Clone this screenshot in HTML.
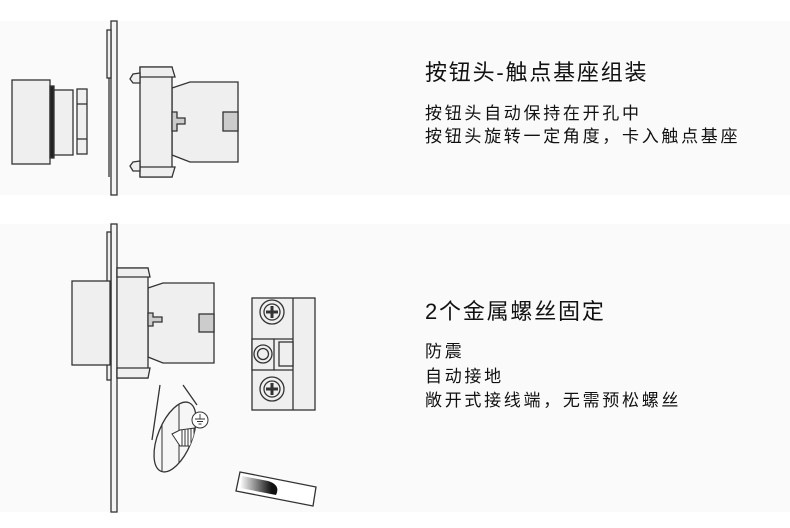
<!DOCTYPE html>
<html><head><meta charset="utf-8"><style>
html,body{margin:0;padding:0;background:#fff;}
body{width:790px;height:528px;position:relative;overflow:hidden;font-family:"Liberation Sans","Noto Sans CJK SC",sans-serif;color:#111;}
.t{position:absolute;left:425px;white-space:nowrap;}
.h{font-size:22px;line-height:26px;letter-spacing:1.8px;}
.b{font-size:17px;letter-spacing:2.7px;}
</style></head><body>
<svg width="790" height="528" style="position:absolute;left:0;top:0">
<defs>
<linearGradient id="sd" x1="0" x2="1" y1="0" y2="0"><stop offset="0" stop-color="#fff"/><stop offset="0.85" stop-color="#111"/><stop offset="1" stop-color="#111"/></linearGradient>
<clipPath id="el"><ellipse cx="175" cy="437" rx="17" ry="37" transform="rotate(22 175 437)"/></clipPath>
</defs>
<rect x="0" y="21" width="790" height="174" fill="#fafafa"/>
<rect x="0" y="224" width="790" height="288" fill="#fafafa"/>
<g stroke="#333" stroke-width="1.3" fill="#efefef">
<rect x="111" y="21" width="6" height="174" fill="#f4f4f4"/>
<rect x="107" y="30" width="4" height="48"/>
<line x1="109" y1="78" x2="109" y2="177"/>
<rect x="12" y="80" width="38" height="84"/>
<rect x="50" y="86" width="4" height="72" fill="#222"/>
<rect x="54" y="90" width="19" height="65"/>
<rect x="77" y="89" width="10" height="65"/>
<line x1="77" y1="104" x2="87" y2="104"/><line x1="77" y1="139" x2="87" y2="139"/>
<polygon points="172,88 190,82 238,82 238,162 190,162 172,155"/>
<rect x="140" y="67" width="32" height="110"/>
<polygon points="140,67 172,67 175,77 140,77"/>
<polygon points="140,167 175,167 172,177 140,177"/>
<polygon points="140,73 133,74 130,79 133,83 140,83"/>
<polygon points="140,161 133,162 130,166 133,171 140,171"/>
<polygon points="172,112 177,112 177,118 185,118 185,124 177,124 177,131 172,131" fill="#ccc"/>
<rect x="223" y="112" width="15" height="19" fill="#ccc"/>
<rect x="111" y="224" width="6" height="288" fill="#f4f4f4"/>
<rect x="107" y="232" width="4" height="148"/>
<rect x="72" y="281" width="38" height="84"/>
<polygon points="148,288 163,283 214,283 214,363 163,363 148,357"/>
<rect x="117" y="268" width="31" height="110"/>
<polygon points="117,268 148,268 150,277 117,277"/>
<polygon points="117,368 150,368 148,378 117,378"/>
<polygon points="148,313 153,313 153,317 162,317 162,322 153,322 153,326 148,326" fill="#ccc"/>
<rect x="199" y="314" width="15" height="18" fill="#ccc"/>
<rect x="252" y="298" width="63" height="112"/>
<line x1="293" y1="298" x2="293" y2="410"/>
<rect x="252" y="339" width="22" height="31"/>
<line x1="274" y1="339" x2="293" y2="339"/><line x1="274" y1="370" x2="293" y2="370"/>
<rect x="279" y="342" width="14" height="24"/>
<circle cx="272" cy="312" r="12"/><circle cx="272" cy="312" r="8"/>
<path d="M266 312h12M272 306v12" stroke-width="3" stroke="#333"/>
<circle cx="272" cy="389" r="12"/><circle cx="272" cy="389" r="8"/>
<path d="M266 389h12M272 383v12" stroke-width="3" stroke="#333"/>
<circle cx="263" cy="354" r="9"/><circle cx="263" cy="354" r="5.5"/>
<line x1="160" y1="385" x2="152" y2="440" fill="none"/>
<line x1="183" y1="385" x2="197" y2="405" fill="none"/>
<ellipse cx="175" cy="437" rx="17" ry="37" transform="rotate(22 175 437)" fill="#f6f6f6"/>
<g clip-path="url(#el)" stroke-width="1">
<line x1="162" y1="390" x2="162" y2="480"/>
<line x1="179" y1="390" x2="179" y2="480"/>
<polygon points="172,434 180,430 195,428 195,446 180,446" fill="#fff"/>
<path d="M182 430v16M185 430v16M188 429v17M191 429v17M194 428v18" stroke="#333"/>
</g>
<circle cx="200" cy="420" r="8" fill="#fff" stroke-width="1"/>
<path d="M200 414v5M195 419h10M197 421.5h6M198.5 424h3" stroke-width="0.9" fill="none"/>
<polygon points="240,472 316,487 313,506 236,491" fill="#fff"/>
<path d="M242 476 L268 481 Q281 485 276 495 L240 488 Z" fill="url(#sd)" stroke="none"/>
</g>
</svg>
<div class="t h" style="top:60px">按钮头-触点基座组装</div>
<div class="t b" style="top:102px;line-height:23px">按钮头自动保持在开孔中<br>按钮头旋转一定角度，卡入触点基座</div>
<div class="t h" style="top:299px">2个金属螺丝固定</div>
<div class="t b" style="top:340px;line-height:24.5px">防震<br>自动接地<br>敞开式接线端，无需预松螺丝</div>
</body></html>
